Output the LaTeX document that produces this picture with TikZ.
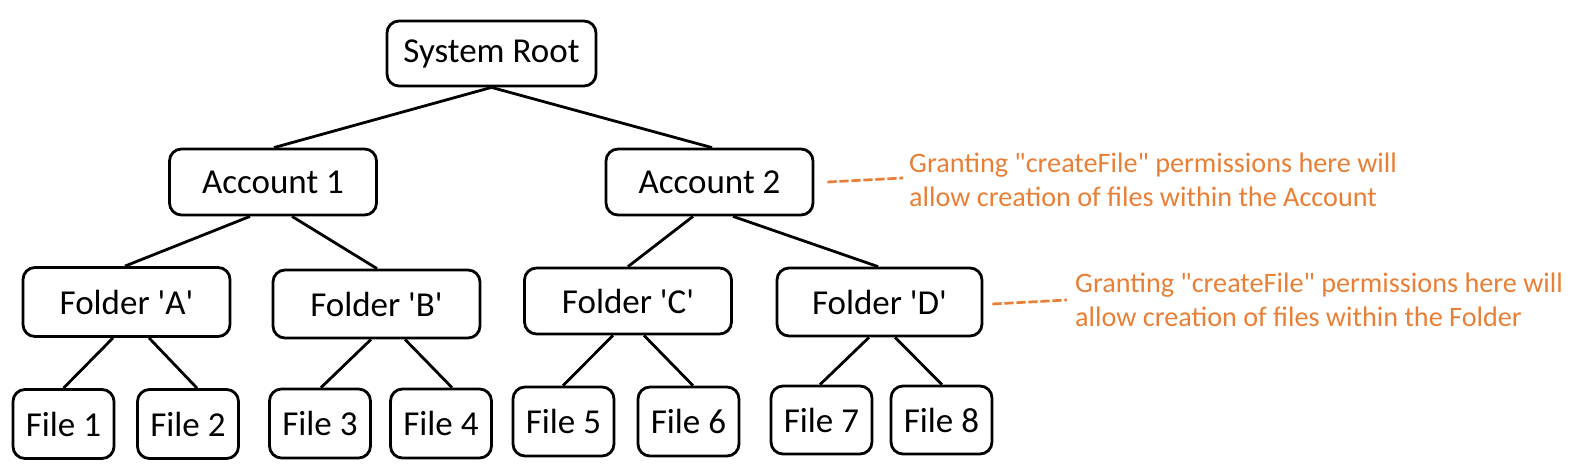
\documentclass[tikz,border=0pt]{standalone}
\usepackage{fontspec}
\setmainfont{Carlito}[Ligatures=TeXOff]
\definecolor{noteorange}{HTML}{E97F36}
\begin{document}
\begin{tikzpicture}[x=1pt,y=-1pt,
  box/.style={draw=black, line width=2.8pt, rounded corners=12pt, inner sep=0pt,
    font=\fontsize{35}{40}\selectfont},
  bigbox/.style={box, minimum width=207pt, minimum height=66pt},
  filebox/.style={box, minimum width=101pt, minimum height=69pt},
  edge/.style={draw=black, line width=2.8pt},
  note/.style={anchor=west, inner sep=0pt, align=left, text=noteorange,
    font=\fontsize{28.2}{34.5}\selectfont},
  notedash/.style={draw=noteorange, line width=2.7pt, dash pattern=on 9.3pt off 2.7pt}]
\useasboundingbox (0,0) rectangle (1580,476);

\node[bigbox, minimum width=209pt, minimum height=65pt] (root) at (491.5,53.5) {System Root};
\node[bigbox] (acc1) at (273,182) {Account 1};
\node[bigbox] (acc2) at (709.5,182) {Account 2};
\node[bigbox, minimum height=69pt] (fA) at (126.5,302) {Folder 'A'};
\node[bigbox, minimum height=68pt] (fB) at (376.5,304) {Folder 'B'};
\node[bigbox] (fC) at (628,301) {Folder 'C'};
\node[bigbox, minimum width=205pt, minimum height=68pt] (fD) at (879.5,302) {Folder 'D'};

\node[filebox] (f1) at (63.5,424) {File 1};
\node[filebox] (f2) at (188,424) {File 2};
\node[filebox] (f3) at (320,423.5) {File 3};
\node[filebox] (f4) at (441,423.5) {File 4};
\node[filebox] (f5) at (563.5,421.5) {File 5};
\node[filebox] (f6) at (688.5,421.5) {File 6};
\node[filebox, minimum height=68pt] (f7) at (821.5,420) {File 7};
\node[filebox, minimum height=68pt] (f8) at (941.5,420) {File 8};

\draw[edge] (root.south) -- ([xshift=1pt]acc1.north);
\draw[edge] (root.south) -- ([xshift=2.5pt]acc2.north);

\draw[edge] ([xshift=-23pt]acc1.south) -- ([xshift=-1.5pt]fA.north);
\draw[edge] ([xshift=19pt]acc1.south) -- ([xshift=0.5pt]fB.north);
\draw[edge] ([xshift=-16.5pt]acc2.south) -- (fC.north);
\draw[edge] ([xshift=23.5pt]acc2.south) -- ([xshift=-1.5pt]fD.north);

\draw[edge] ([xshift=-13.5pt]fA.south) -- ([xshift=0pt]f1.north);
\draw[edge] ([xshift=22.5pt]fA.south) -- ([xshift=9pt]f2.north);
\draw[edge] ([xshift=-5.5pt]fB.south) -- ([xshift=1pt]f3.north);
\draw[edge] ([xshift=28.5pt]fB.south) -- ([xshift=11pt]f4.north);
\draw[edge] ([xshift=-15pt]fC.south) -- ([xshift=-0.5pt]f5.north);
\draw[edge] ([xshift=16pt]fC.south) -- ([xshift=4.5pt]f6.north);
\draw[edge] ([xshift=-10.5pt]fD.south) -- ([xshift=-1.5pt]f7.north);
\draw[edge] ([xshift=15.5pt]fD.south) -- ([xshift=0.5pt]f8.north);

\node[note] (n1) at (909,180) {Granting "createFile" permissions here will\\allow creation of files within the Account};
\node[note] (n2) at (1075,300) {Granting "createFile" permissions here will\\allow creation of files within the Folder};

\draw[notedash] ([xshift=13pt]acc2.east) -- ([xshift=-6pt,yshift=2pt]n1.west);
\draw[notedash] ([xshift=9pt,yshift=-2pt]fD.east) -- ([xshift=-8pt]n2.west);
\end{tikzpicture}
\end{document}
